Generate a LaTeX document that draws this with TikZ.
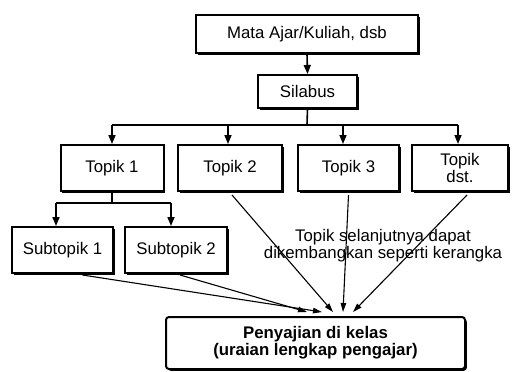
\documentclass[tikz,border=0pt]{standalone}
\usepackage{fontspec}
\setmainfont{Liberation Sans}
\usetikzlibrary{arrows.meta,shadows}

\begin{document}
\begin{tikzpicture}[x=1pt,y=-1pt,
  box/.style={draw,line width=2pt,fill=white,align=center,inner sep=0pt,
    font=\fontsize{16.8}{17}\selectfont,
    drop shadow={shadow xshift=1.8pt,shadow yshift=-1.8pt,fill=black,opacity=1}},
  conn/.style={line width=1.6pt},
  arr/.style={line width=1.6pt,-{Triangle[length=9pt,width=7pt]}},
  thin arr/.style={line width=1.1pt,-{Triangle[length=9pt,width=5.5pt]}},
  note/.style={align=center,inner sep=0pt,font=\fontsize{16.8}{17}\selectfont}]

\path[use as bounding box] (0,0) rectangle (512,372);

% top levels
\node[box,minimum width=222pt,minimum height=38pt] (mata) at (307,34) {Mata Ajar/Kuliah, dsb};
\node[box,minimum width=99pt,minimum height=33pt] (silabus) at (307.5,91.5) {Silabus};

% topics
\node[box,minimum width=103pt,minimum height=46pt] (topik1) at (112,168) {Topik 1};
\node[box,minimum width=104pt,minimum height=46pt] (topik2) at (230,168) {Topik 2};
\node[box,minimum width=101pt,minimum height=46pt] (topik3) at (348.5,168) {Topik 3};
\node[box,minimum width=96pt,minimum height=46pt] (topikdst) at (460,168) {Topik\\dst.};

% subtopics
\node[box,minimum width=101pt,minimum height=46pt] (sub1) at (62.5,250) {Subtopik 1};
\node[box,minimum width=102pt,minimum height=46pt] (sub2) at (176,250) {Subtopik 2};

% note text
\node[note] (catatan) at (383,246) {Topik selanjutnya dapat\\dikembangkan seperti kerangka};

% class presentation
\node[box,font=\fontsize{16.8}{17}\bfseries\selectfont,rounded corners=3pt,
      minimum width=299pt,minimum height=52pt] (sajian) at (315.5,343)
      {Penyajian di kelas\\(uraian lengkap pengajar)};

% connectors at the top
\draw[arr] (mata.south) -- (silabus.north);
\coordinate (bus) at (307,125);
\draw[conn] (silabus.south) -- (bus);
\draw[conn] (topik1.north |- bus) -- ([xshift=-2pt]topikdst.north |- bus);
\draw[arr] (topik1.north |- bus) -- (topik1.north);
\draw[arr] ([xshift=-2pt]topik2.north |- bus) -- ([xshift=-2pt]topik2.north);
\draw[arr] ([xshift=-5.5pt]topik3.north |- bus) -- ([xshift=-5.5pt]topik3.north);
\draw[arr] ([xshift=-2pt]topikdst.north |- bus) -- ([xshift=-2pt]topikdst.north);

% topic 1 to its subtopics
\coordinate (bus2) at (112,203);
\draw[conn] (topik1.south) -- (bus2);
\draw[conn] ([xshift=-6.5pt]sub1.north |- bus2) -- ([xshift=-5pt]sub2.north |- bus2);
\draw[arr] ([xshift=-6.5pt]sub1.north |- bus2) -- ([xshift=-6.5pt]sub1.north);
\draw[arr] ([xshift=-5pt]sub2.north |- bus2) -- ([xshift=-5pt]sub2.north);

% everything flows into the class presentation
\draw[thin arr] ([xshift=20pt,yshift=-1pt]sub1.south) -- ([xshift=6.5pt,yshift=4pt]sajian.north);
\draw[thin arr] ([xshift=4pt,yshift=-1pt]sub2.south) -- ([xshift=-8.5pt,yshift=4pt]sajian.north);
\draw[thin arr] ([xshift=2pt,yshift=-3pt]topik2.south) -- ([xshift=17.5pt,yshift=4pt]sajian.north);
\draw[thin arr] ([yshift=-3pt]topik3.south) -- ([xshift=27.5pt,yshift=4pt]sajian.north);
\draw[thin arr] ([xshift=7pt,yshift=-3pt]topikdst.south) -- ([xshift=37.5pt,yshift=4pt]sajian.north);

\end{tikzpicture}
\end{document}
